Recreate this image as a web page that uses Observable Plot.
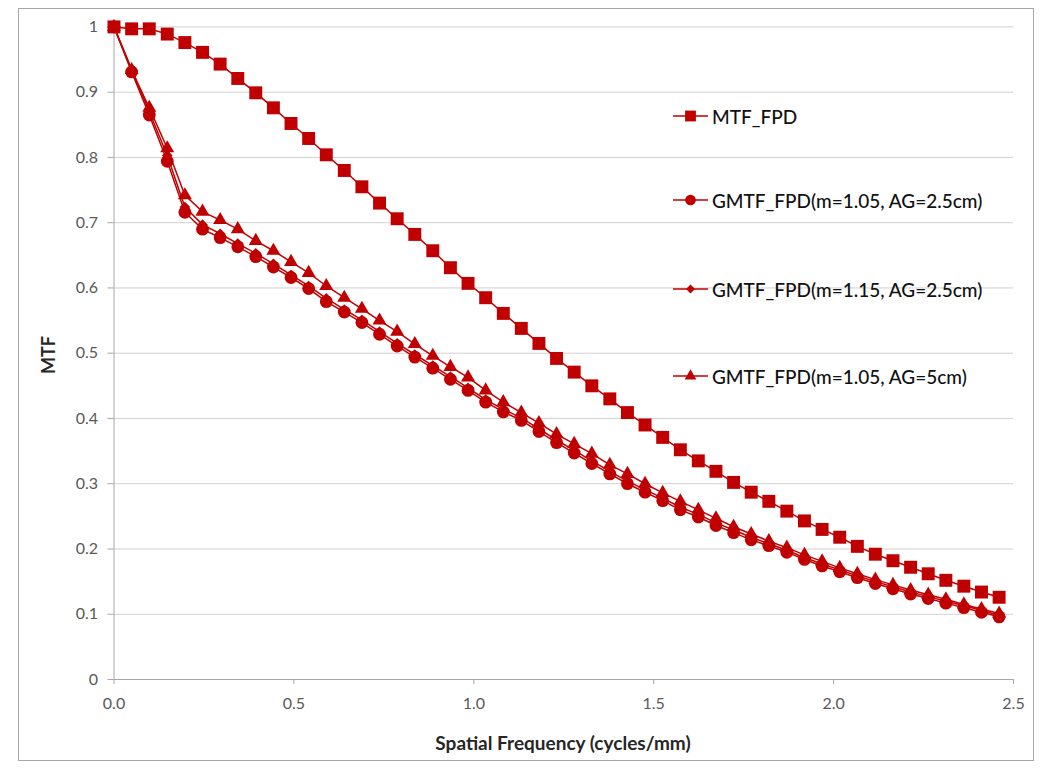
<!DOCTYPE html>
<html>
<head>
<meta charset="utf-8">
<script src="https://cdn.jsdelivr.net/npm/d3@7"></script>
<script src="https://cdn.jsdelivr.net/npm/@observablehq/plot@0.6"></script>
<style>
  html, body { margin: 0; padding: 0; background: #fff; }
  #wrap { position: relative; width: 1050px; height: 775px; overflow: hidden; }
  #border { position: absolute; left: 18px; top: 8px; width: 1014px; height: 751px; border: 1px solid #a6a6a6; pointer-events: none; }
  .title { position: absolute; font-family: Lato, sans-serif; font-weight: bold; color: #262626; white-space: nowrap; }
  #xtitle { left: 0; width: 1126px; text-align: center; top: 731px; font-size: 19px; }
  #ytitle { left: 48px; top: 355px; font-size: 18px; transform: translate(-50%, -50%) rotate(-90deg); }
  .leg { position: absolute; left: 672px; display: flex; align-items: center; font-family: Lato, sans-serif; font-size: 19px; font-weight: 500; color: #111; white-space: nowrap; height: 24px; }
  .leg svg { margin-right: 3px; }
</style>
</head>
<body>
<div id="wrap">
  <div id="border"></div>
</div>
<script>
// Spatial frequency samples (cycles/mm)
const freq = [0, 0.049, 0.098, 0.148, 0.197, 0.246, 0.295, 0.344, 0.394, 0.443,
  0.492, 0.541, 0.590, 0.640, 0.689, 0.738, 0.787, 0.836, 0.886, 0.935,
  0.984, 1.033, 1.082, 1.132, 1.181, 1.230, 1.279, 1.328, 1.378, 1.427,
  1.476, 1.525, 1.574, 1.624, 1.673, 1.722, 1.771, 1.820, 1.870, 1.919,
  1.968, 2.017, 2.066, 2.116, 2.165, 2.214, 2.263, 2.312, 2.362, 2.411, 2.460];

const mtfFPD = [1.0, 0.997, 0.997, 0.989, 0.976, 0.961, 0.943, 0.921, 0.899, 0.876,
  0.852, 0.829, 0.804, 0.780, 0.755, 0.730, 0.706, 0.682, 0.657, 0.631,
  0.607, 0.585, 0.561, 0.538, 0.515, 0.492, 0.471, 0.450, 0.430, 0.409,
  0.390, 0.371, 0.352, 0.335, 0.319, 0.302, 0.287, 0.273, 0.258, 0.243,
  0.230, 0.218, 0.204, 0.192, 0.182, 0.172, 0.162, 0.152, 0.143, 0.134, 0.126];

const gmtf105_25 = [1.0, 0.931, 0.865, 0.794, 0.716, 0.690, 0.677, 0.663, 0.648, 0.632,
  0.616, 0.599, 0.579, 0.563, 0.547, 0.529, 0.511, 0.494, 0.477, 0.460,
  0.443, 0.425, 0.410, 0.397, 0.380, 0.363, 0.347, 0.331, 0.315, 0.300,
  0.287, 0.274, 0.260, 0.249, 0.236, 0.225, 0.214, 0.205, 0.195, 0.184,
  0.174, 0.165, 0.156, 0.147, 0.139, 0.131, 0.124, 0.117, 0.110, 0.103, 0.096];

const gmtf115_25 = [1.0, 0.935, 0.870, 0.803, 0.724, 0.697, 0.683, 0.668, 0.653, 0.637,
  0.620, 0.603, 0.584, 0.567, 0.551, 0.533, 0.515, 0.498, 0.481, 0.464,
  0.447, 0.429, 0.414, 0.401, 0.384, 0.367, 0.351, 0.335, 0.319, 0.304,
  0.291, 0.278, 0.264, 0.253, 0.240, 0.229, 0.218, 0.208, 0.198, 0.187,
  0.177, 0.168, 0.159, 0.150, 0.142, 0.134, 0.127, 0.120, 0.113, 0.106, 0.098];

const gmtf105_5 = [1.0, 0.934, 0.876, 0.814, 0.742, 0.717, 0.704, 0.690, 0.672, 0.657,
  0.640, 0.623, 0.603, 0.585, 0.568, 0.550, 0.533, 0.514, 0.496, 0.479,
  0.463, 0.443, 0.425, 0.409, 0.393, 0.376, 0.361, 0.346, 0.329, 0.315,
  0.300, 0.286, 0.273, 0.260, 0.247, 0.234, 0.223, 0.212, 0.202, 0.191,
  0.181, 0.171, 0.162, 0.153, 0.145, 0.137, 0.130, 0.123, 0.115, 0.108, 0.101];

const seriesNames = ["MTF_FPD", "GMTF_FPD(m=1.05, AG=2.5cm)", "GMTF_FPD(m=1.15, AG=2.5cm)", "GMTF_FPD(m=1.05, AG=5cm)"];
const seriesValues = [mtfFPD, gmtf105_25, gmtf115_25, gmtf105_5];
const seriesSymbols = ["square", "circle", "diamond2", "triangle"];
const seriesR = [7.3, 6.4, 4.8, 5.2];

const xTicks = [0, 0.5, 1.0, 1.5, 2.0, 2.5];
const yTicks = [0, 0.1, 0.2, 0.3, 0.4, 0.5, 0.6, 0.7, 0.8, 0.9, 1.0];

const color = "#c00000";
const tickColor = "#a6a6a6";
const labelColor = "#595959";

const seriesData = seriesNames.map((name, s) =>
  freq.map((f, i) => ({series: name, f, v: seriesValues[s][i]})));

const seriesMarks = seriesData.flatMap((d, s) => [
  Plot.line(d, {x: "f", y: "v", stroke: color, strokeWidth: 1.5}),
  Plot.dot(d, {x: "f", y: "v", symbol: () => seriesSymbols[s], r: seriesR[s], fill: color, stroke: "none"})
]);

const chart = Plot.plot({
  width: 1050,
  height: 775,
  marginLeft: 113.5,
  marginRight: 37,
  marginTop: 26.4,
  marginBottom: 96,
  style: {fontFamily: "Lato, sans-serif", fontSize: "16px", background: "transparent"},
  x: {domain: [0, 2.5]},
  y: {domain: [0, 1]},
  symbol: {type: "identity"},
  marks: [
    Plot.ruleY(yTicks.filter(d => d > 0), {stroke: "#d0d0d0", strokeWidth: 1}),
    Plot.axisX(xTicks, {tickFormat: d => d.toFixed(1), tickSize: 5, tickPadding: 13, stroke: tickColor, fill: labelColor, label: null}),
    Plot.axisY(yTicks, {tickFormat: d => (d === 0 ? "0" : d === 1 ? "1" : d.toFixed(1)), tickSize: 6, tickPadding: 10, stroke: tickColor, fill: labelColor, label: null}),
    Plot.ruleX([0], {stroke: tickColor}),
    Plot.ruleY([0], {stroke: tickColor}),
    ...seriesMarks
  ]
});

const wrap = document.getElementById("wrap");
wrap.insertBefore(chart, wrap.firstChild);

// Axis titles
const xt = document.createElement("div");
xt.className = "title"; xt.id = "xtitle"; xt.textContent = "Spatial Frequency (cycles/mm)";
wrap.appendChild(xt);
const yt = document.createElement("div");
yt.className = "title"; yt.id = "ytitle"; yt.textContent = "MTF";
wrap.appendChild(yt);

// Legend
const legendTops = [104, 188, 277, 364];
seriesNames.forEach((name, s) => {
  const row = document.createElement("div");
  row.className = "leg";
  row.style.top = legendTops[s] + "px";
  const svg = d3.create("svg").attr("width", 37).attr("height", 24);
  svg.append("line").attr("x1", 1).attr("x2", 36).attr("y1", 12).attr("y2", 12)
    .attr("stroke", color).attr("stroke-width", 1.5);
  const sym = {square: d3.symbolSquare, circle: d3.symbolCircle, diamond2: d3.symbolDiamond2, triangle: d3.symbolTriangle}[seriesSymbols[s]];
  const r = seriesR[s];
  svg.append("path").attr("transform", "translate(18.5,12)")
    .attr("d", d3.symbol(sym, Math.PI * r * r * 0.7)()).attr("fill", color);
  row.appendChild(svg.node());
  const span = document.createElement("span");
  span.textContent = name;
  row.appendChild(span);
  wrap.appendChild(row);
});
</script>
</body>
</html>
